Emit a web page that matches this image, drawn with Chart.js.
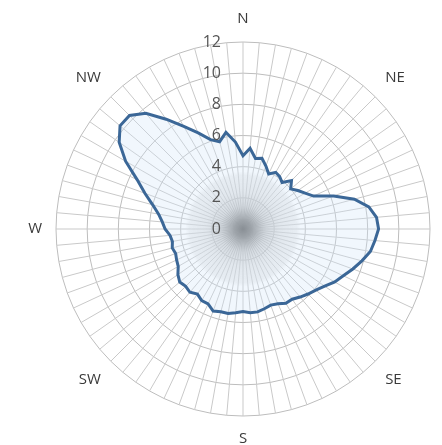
<!DOCTYPE html>
<html>
<head>
<meta charset="utf-8">
<script src="https://cdn.jsdelivr.net/npm/chart.js@4"></script>
<style>
html, body { margin: 0; padding: 0; overflow: hidden; background: #fff; }
#wrap { position: absolute; left: 0; top: 0; width: 482px; height: 458px; }
</style>
</head>
<body>
<div id="wrap"><canvas id="windChart"></canvas></div>
<script>
// Compass labels, one every 45 degrees (every 9th spoke of 72)
const compass = ['N', 'NE', 'E', 'SE', 'S', 'SW', 'W', 'NW'];
const directionLabels = Array.from({ length: 72 }, (_, i) => (i % 9 === 0 ? compass[i / 9] : ''));

// Frequency per 5-degree sector, clockwise from N
const frequency = [
    4.7, 5.2, 4.6, 4.7, 4.3, 3.9, 4.2, 4.1, 3.9, 4.4, 4.0, 4.3,
    4.6, 5.0, 6.2, 7.4, 8.2, 8.6, 8.7, 8.5, 8.3, 7.9, 7.5, 7.1,
    6.8, 6.4, 6.1, 5.9, 5.7, 5.5, 5.5, 5.3, 5.2, 5.3, 5.4, 5.4,
    5.3, 5.4, 5.5, 5.5, 5.6, 5.3, 5.3, 5.1, 5.3, 5.2, 5.3, 5.1,
    4.8, 4.7, 4.6, 4.7, 4.6, 4.7, 5.0, 5.2, 5.5, 6.0, 6.7, 7.5,
    8.7, 9.7, 10.3, 10.3, 9.7, 8.6, 7.6, 6.8, 6.1, 5.8, 6.3, 5.6
];

const tickValues = [0, 2, 4, 6, 8, 10, 12];

// soft gray spot in the middle
const centerShade = {
    id: 'centerShade',
    beforeDatasetsDraw(chart) {
        const r = chart.scales.r;
        const ctx = chart.ctx;
        const rad = r.getDistanceFromCenterForValue(3.7);
        const g = ctx.createRadialGradient(r.xCenter, r.yCenter, 0, r.xCenter, r.yCenter, rad);
        g.addColorStop(0, 'rgba(95,95,95,0.9)');
        g.addColorStop(0.15, 'rgba(120,120,120,0.8)');
        g.addColorStop(0.4, 'rgba(180,180,180,0.55)');
        g.addColorStop(0.65, 'rgba(205,205,205,0.45)');
        g.addColorStop(0.93, 'rgba(215,215,215,0.35)');
        g.addColorStop(1, 'rgba(215,215,215,0)');
        ctx.save();
        ctx.fillStyle = g;
        ctx.beginPath();
        ctx.arc(r.xCenter, r.yCenter, rad, 0, Math.PI * 2);
        ctx.fill();
        ctx.restore();
    }
};

// value labels sit just left of the N spoke
const tickText = {
    id: 'tickText',
    afterDraw(chart) {
        const r = chart.scales.r;
        const ctx = chart.ctx;
        ctx.save();
        ctx.font = '16px "Open Sans"';
        ctx.fillStyle = '#555555';
        ctx.textAlign = 'right';
        ctx.textBaseline = 'middle';
        tickValues.forEach(v => {
            ctx.fillText(String(v), r.xCenter - 22, r.yCenter - r.getDistanceFromCenterForValue(v));
        });
        ctx.restore();
    }
};

const ctx = document.getElementById('windChart').getContext('2d');
const windChart = new Chart(ctx, {
    type: 'radar',
    data: {
        labels: directionLabels,
        datasets: [{
            label: 'Frequency',
            data: frequency,
            borderColor: '#3b6797',
            borderWidth: 3,
            backgroundColor: 'rgba(208,229,248,0.3)',
            fill: true,
            pointRadius: 0,
            tension: 0
        }]
    },
    options: {
        responsive: true,
        maintainAspectRatio: false,
        animation: false,
        layout: { padding: { top: 10, bottom: 10 } },
        plugins: {
            legend: { display: false },
            tooltip: { enabled: false }
        },
        scales: {
            r: {
                min: 0,
                max: 12,
                ticks: { stepSize: 2, display: false },
                grid: { color: '#bdbdbd', lineWidth: 1 },
                angleLines: { color: '#c9c9c9', lineWidth: 1 },
                pointLabels: {
                    font: { family: 'Open Sans', size: 15 },
                    color: '#3a3a3a',
                    padding: 14
                }
            }
        }
    },
    plugins: [centerShade, tickText]
});
</script>
</body>
</html>
